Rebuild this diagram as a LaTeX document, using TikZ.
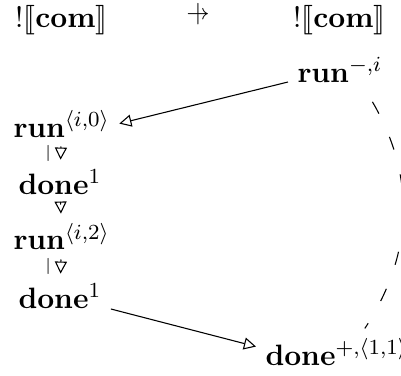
\documentclass[tikz,border=0pt]{standalone}
\usepackage{amsmath,amssymb}
\usepackage{stmaryrd}
\usetikzlibrary{arrows.meta}
\newcommand{\pfn}{\mathrel{\ooalign{$\scriptstyle\rightarrow$\cr\hidewidth$\scriptstyle|$\hidewidth\cr}}}
\begin{document}
\begin{tikzpicture}[x=0.3717pt,y=-0.3717pt,font=\fontsize{10.95}{13}\selectfont,
		>={Bar[width=0pt,sep=-2.5pt]Triangle[open,length=4.5pt,width=4.5pt]}]
	\useasboundingbox (0,0) rectangle (401,376);
	\node[anchor=base west,inner sep=1pt] (L) at (12,27) {$!\llbracket\mathbf{com}\rrbracket$};
	\node (P) at (198,18) {$\pfn$};
	\node[anchor=base west,inner sep=1pt] (R) at (290,27) {$!\llbracket\mathbf{com}\rrbracket$};

	\node[anchor=base west] (Q) at (288,82) {$\mathbf{run}^{-,i}$};
	\node[anchor=base west] (A) at (4,137) {$\mathbf{run}^{\langle i,0\rangle}$};
	\node[anchor=base west] (B) at (9,195) {$\mathbf{done}^{1}$};
	\node[anchor=base west] (C) at (4,250) {$\mathbf{run}^{\langle i,2\rangle}$};
	\node[anchor=base west] (D) at (9,309) {$\mathbf{done}^{1}$};
	\node[anchor=base west] (E) at (256,366) {$\mathbf{done}^{+,\langle 1,1\rangle}$};

	\path [->] (Q.base west) edge (A.east);
	\path [->] (A) edge node[left] {$\scriptscriptstyle|$} (B);
	\path [->] (B) edge (C);
	\path [->] (C) edge node[left] {$\scriptscriptstyle|$} (D);
	\path [->] (D.base east) edge ([yshift=2pt]E.west);
	\path [dash pattern=on 5pt off 9.5pt,dash phase=10pt] (Q.-40) edge[bend left=33] (E.40);
\end{tikzpicture}
\end{document}
